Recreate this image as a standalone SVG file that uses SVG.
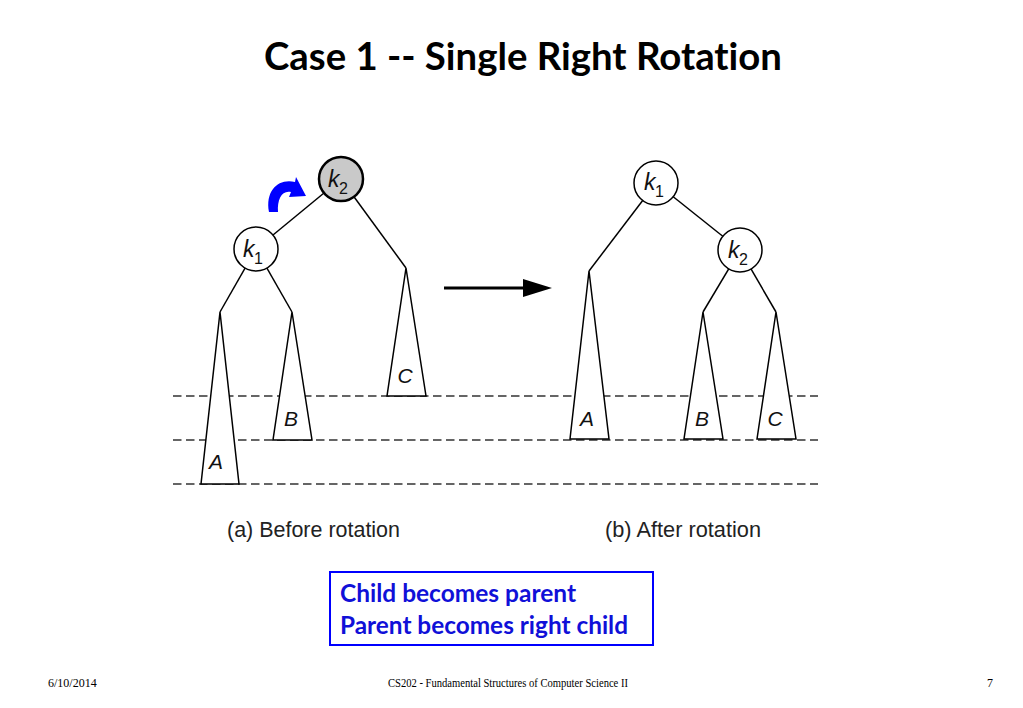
<svg xmlns="http://www.w3.org/2000/svg" width="1023" height="708" viewBox="0 0 1023 708">
<style>
.edge{stroke:#000;stroke-width:1.5;fill:none}
.dash{stroke:#333;stroke-width:1.5;stroke-dasharray:8.5 4.5;fill:none}
.tri{fill:#fff;stroke:#000;stroke-width:1.5;stroke-linejoin:miter}
.node{fill:#fff;stroke:#000;stroke-width:1.5}
.lbl{font-family:"Liberation Sans",Arial,sans-serif;font-style:italic;font-size:21px;fill:#111}
.k{font-family:"Liberation Sans",Arial,sans-serif;font-style:italic;font-size:23px;fill:#111}
.sub{font-family:"Liberation Sans",Arial,sans-serif;font-size:16px;fill:#111}
.cap{font-family:"Liberation Sans",Arial,sans-serif;font-size:21.5px;fill:#222}
.foot{font-family:"Liberation Serif","Times New Roman",serif;font-size:12px;fill:#000}
.note{font-family:Lato,"Open Sans",sans-serif;font-weight:bold;font-size:24px;fill:#1010d8;font-variant-ligatures:none}
</style>
<rect width="1023" height="708" fill="#fff"/>
<text x="523" y="70" text-anchor="middle" font-family="Lato,'Open Sans',sans-serif" font-weight="bold" font-size="38" fill="#000" style="font-variant-ligatures:none" textLength="518" lengthAdjust="spacingAndGlyphs">Case 1 -- Single Right Rotation</text>

<g id="levels">
<line class="dash" x1="173" y1="396" x2="818" y2="396"/>
<line class="dash" x1="173" y1="440" x2="818" y2="440"/>
<line class="dash" x1="173" y1="484" x2="818" y2="484"/>
</g>

<g id="connectors">
<line class="edge" x1="341" y1="179" x2="256" y2="249"/>
<line class="edge" x1="256" y1="249" x2="220" y2="312"/>
<line class="edge" x1="256" y1="249" x2="292" y2="312"/>
<line class="edge" x1="341" y1="179" x2="406" y2="268"/>
<line class="edge" x1="656" y1="183" x2="589" y2="271"/>
<line class="edge" x1="656" y1="183" x2="740" y2="250"/>
<line class="edge" x1="740" y1="250" x2="703" y2="312"/>
<line class="edge" x1="740" y1="250" x2="776" y2="312"/>
<line x1="444" y1="288" x2="526" y2="288" stroke="#000" stroke-width="3"/>
<polygon points="523,279 552,288 523,297" fill="#000"/>
<path d="M 269 212 C 265 190 279 178 295 182 L 296 177 L 306 196 L 289 197 L 291 192 C 282 190 277 199 278 212 Z" fill="#0000ff"/>
</g>

<g id="before-A"><polygon class="tri" points="220,312 201,484 239,484"/><text class="lbl" x="216" y="469" text-anchor="middle">A</text></g>
<g id="before-B"><polygon class="tri" points="292,312 273,440 312,440"/><text class="lbl" x="291" y="426" text-anchor="middle">B</text></g>
<g id="before-C"><polygon class="tri" points="406,268 387,396 426,396"/><text class="lbl" x="405" y="383" text-anchor="middle">C</text></g>
<g id="before-k1"><circle class="node" cx="256" cy="249" r="22"/><text class="k" x="243" y="257">k</text><text class="sub" x="254" y="264">1</text></g>
<g id="before-k2"><circle cx="341" cy="179" r="22" fill="#c9c9c9" stroke="#000" stroke-width="2.5"/><text class="k" x="328" y="187">k</text><text class="sub" x="339" y="194">2</text></g>

<g id="after-A"><polygon class="tri" points="589,271 570,439 609,439"/><text class="lbl" x="587" y="426" text-anchor="middle">A</text></g>
<g id="after-B"><polygon class="tri" points="703,312 684,439 723,439"/><text class="lbl" x="702" y="426" text-anchor="middle">B</text></g>
<g id="after-C"><polygon class="tri" points="776,312 757,439 796,439"/><text class="lbl" x="775" y="426" text-anchor="middle">C</text></g>
<g id="after-k1"><circle class="node" cx="656" cy="183" r="22"/><text class="k" x="644" y="190">k</text><text class="sub" x="655" y="197">1</text></g>
<g id="after-k2"><circle class="node" cx="740" cy="250" r="22"/><text class="k" x="728" y="258">k</text><text class="sub" x="739" y="265">2</text></g>

<text class="cap" x="227" y="537" textLength="173" lengthAdjust="spacingAndGlyphs">(a) Before rotation</text>
<text class="cap" x="605" y="537" textLength="156" lengthAdjust="spacingAndGlyphs">(b) After rotation</text>

<g id="note">
<rect x="330" y="572" width="323" height="73" fill="#fff" stroke="#0000ff" stroke-width="2"/>
<text class="note" x="340" y="602" textLength="236" lengthAdjust="spacingAndGlyphs">Child becomes parent</text>
<text class="note" x="340" y="634" textLength="288" lengthAdjust="spacingAndGlyphs">Parent becomes right child</text>
</g>

<text class="foot" x="48" y="687">6/10/2014</text>
<text class="foot" x="508" y="687" text-anchor="middle" textLength="240" lengthAdjust="spacingAndGlyphs">CS202 - Fundamental Structures of Computer Science II</text>
<text class="foot" x="987" y="687">7</text>
</svg>
